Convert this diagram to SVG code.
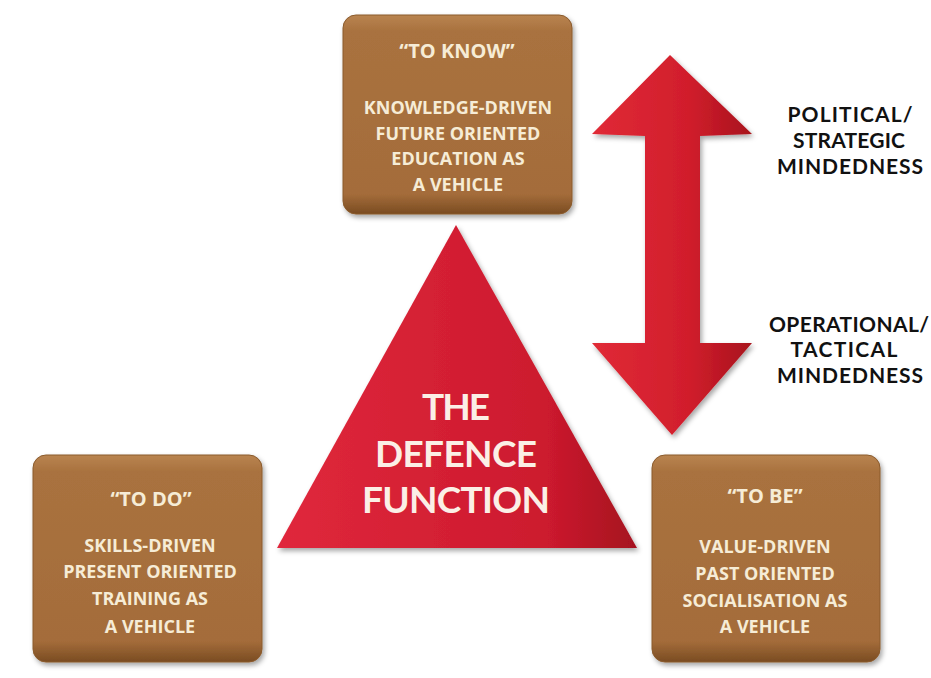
<svg xmlns="http://www.w3.org/2000/svg" width="931" height="678" viewBox="0 0 931 678">
<defs>
<linearGradient id="boxg" x1="0" y1="0" x2="0" y2="1">
<stop offset="0" stop-color="#b98450"/>
<stop offset="0.08" stop-color="#a9723f"/>
<stop offset="0.9" stop-color="#a46c3a"/>
<stop offset="1" stop-color="#7a4c22"/>
</linearGradient>
<linearGradient id="redg" x1="0" y1="0" x2="1" y2="0">
<stop offset="0" stop-color="#e0283c"/>
<stop offset="0.75" stop-color="#cc1a2e"/>
<stop offset="1" stop-color="#a5111f"/>
</linearGradient>
<linearGradient id="arrg" x1="0" y1="0" x2="1" y2="0">
<stop offset="0" stop-color="#e02a36"/>
<stop offset="0.6" stop-color="#d11e2c"/>
<stop offset="1" stop-color="#a8121d"/>
</linearGradient>
<filter id="sh" x="-10%" y="-10%" width="125%" height="125%">
<feDropShadow dx="2" dy="3" stdDeviation="2.5" flood-color="#000" flood-opacity="0.35"/>
</filter>
</defs>
<style>
.box{fill:url(#boxg);stroke:#8a5a2c;stroke-width:1;filter:url(#sh)}
.bt{font-family:"Open Sans","Liberation Sans",sans-serif;font-weight:700;font-size:18px;fill:#f6ecd6;text-anchor:middle}
.bh{font-size:20px}
.tri{fill:url(#redg);filter:url(#sh)}
.tt{font-family:Lato,"Liberation Sans",sans-serif;font-weight:700;font-size:37px;fill:#fbefe6;text-anchor:middle}
.lab{font-family:Lato,"Liberation Sans",sans-serif;font-weight:700;font-size:21px;fill:#111;text-anchor:middle}
</style>
<rect width="931" height="678" fill="#ffffff"/>
<g id="connectors">
<polygon fill="url(#arrg)" filter="url(#sh)" points="670,55 752,134 700,136 700,343 752,343 672,435 592,343 645,343 645,136 592,134"/>
</g>
<g id="node-know">
<rect class="box" x="343" y="15" width="229" height="199" rx="13"/>
<text class="bt bh" x="457" y="58">“TO KNOW”</text>
<text class="bt" x="458" y="114">KNOWLEDGE-DRIVEN</text>
<text class="bt" x="458" y="140">FUTURE ORIENTED</text>
<text class="bt" x="458" y="165">EDUCATION AS</text>
<text class="bt" x="458" y="191">A VEHICLE</text>
</g>
<g id="node-do">
<rect class="box" x="33" y="455" width="229" height="207" rx="13"/>
<text class="bt bh" x="151" y="506">“TO DO”</text>
<text class="bt" x="150" y="552">SKILLS-DRIVEN</text>
<text class="bt" x="150" y="578">PRESENT ORIENTED</text>
<text class="bt" x="150" y="605">TRAINING AS</text>
<text class="bt" x="150" y="633">A VEHICLE</text>
</g>
<g id="node-be">
<rect class="box" x="652" y="455" width="228" height="207" rx="13"/>
<text class="bt bh" x="765" y="503">“TO BE”</text>
<text class="bt" x="765" y="553">VALUE-DRIVEN</text>
<text class="bt" x="765" y="580">PAST ORIENTED</text>
<text class="bt" x="765" y="607">SOCIALISATION AS</text>
<text class="bt" x="765" y="633">A VEHICLE</text>
</g>
<g id="node-defence">
<polygon class="tri" points="456,225 637,548 277,548"/>
<text class="tt" x="456" y="420" textLength="68">THE</text>
<text class="tt" x="456" y="467" textLength="162">DEFENCE</text>
<text class="tt" x="456" y="513" textLength="188">FUNCTION</text>
</g>
<g id="label-political">
<text class="lab" x="850" y="122" textLength="125">POLITICAL/</text>
<text class="lab" x="849" y="148" textLength="112">STRATEGIC</text>
<text class="lab" x="850" y="174" textLength="146">MINDEDNESS</text>
</g>
<g id="label-operational">
<text class="lab" x="849" y="332" textLength="160">OPERATIONAL/</text>
<text class="lab" x="844" y="357" textLength="107">TACTICAL</text>
<text class="lab" x="850" y="383" textLength="146">MINDEDNESS</text>
</g>
</svg>
